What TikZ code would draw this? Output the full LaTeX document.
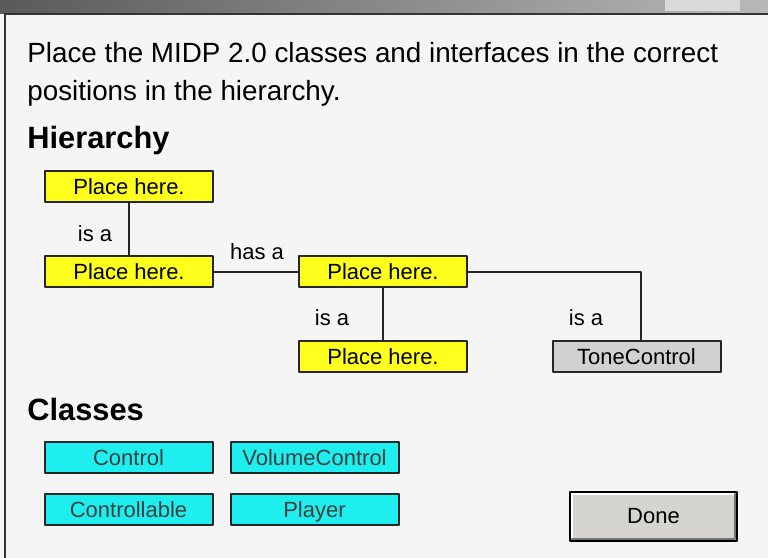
\documentclass[tikz,border=0pt]{standalone}
\usepackage{fontspec}
\setmainfont{Liberation Sans}
\definecolor{panel}{HTML}{F5F5F5}
\definecolor{slotyellow}{HTML}{FFFF1E}
\definecolor{slotcyan}{HTML}{1EEEEE}
\definecolor{btngray}{HTML}{D6D4CE}
\definecolor{barL}{HTML}{5A5A5A}
\definecolor{barR}{HTML}{B8B8B8}
\begin{document}
\begin{tikzpicture}[x=0.5pt, y=-0.5pt, line join=round, line cap=round, font=\fontsize{11}{13}\selectfont]
				\tikzset{slot/.style={draw=black!85, line width=1pt, fill=slotyellow, minimum width=84pt, minimum height=15.5pt, inner sep=0pt, text height=8.6pt, text depth=1.1pt},
					given/.style={slot, fill=black!18},
					cls/.style={slot, fill=slotcyan, text=black!75},
					rel/.style={font=\fontsize{11}{13}\selectfont, inner sep=0pt},
					head/.style={font=\fontsize{15.4}{18}\bfseries, anchor=base west, inner sep=0pt},
					link/.style={draw=black!85, line width=1pt}}
				% window and frame
				\useasboundingbox (0,0) rectangle (768,558);
				\fill[panel] (0,0) rectangle (768,558);
				\shade[left color=barL, right color=barR] (0,0) rectangle (768,13);
				\fill[white!85!black] (665,0) rectangle (740,11);
				\draw[black!80, line width=1pt] (5,14)--(768,14) (5,14)--(5,558);
				% question
				\node[anchor=base west, inner sep=0pt, font=\fontsize{13.9}{16}\selectfont] (q1) at (27,62) {Place the MIDP 2.0 classes and interfaces in the correct};
				\node[anchor=base west, inner sep=0pt, font=\fontsize{13.9}{16}\selectfont] (q2) at (27,100) {positions in the hierarchy.};
				\node[head] (hier) at (27,148) {Hierarchy};
				\node[head] (cls) at (27,420) {Classes};
				% hierarchy slots
				\node[slot] (p1) at (129,186.5) {Place here.};
				\node[slot] (p2) at (129,271.5) {Place here.};
				\node[slot] (p3) at (383,271.5) {Place here.};
				\node[slot] (p4) at (383,356.5) {Place here.};
				\node[given] (tone) at (636.5,356.5) {ToneControl};
				\draw[link] (p1)--(p2) (p2)--(p3) (p3)--(p4);
				\draw[link] (p3.east) -| ([xshift=2pt]tone.north);
				\node[rel] (isa1) at (95,234) {is a};
				\node[rel] (hasa) at (257,252) {has a};
				\node[rel] (isa2) at (332,318) {is a};
				\node[rel] (isa3) at (586,318) {is a};
				% classes to place
				\node[cls] (c1) at (128.5,457.5) {Control};
				\node[cls] (c2) at (314.5,457.5) {VolumeControl};
				\node[cls] (c3) at (128.5,509.5) {Controllable};
				\node[cls] (c4) at (314.5,509.5) {Player};
				% button
				\node[fill=btngray, draw=black, line width=1.2pt, minimum width=83.5pt, minimum height=24.5pt, inner sep=0pt] (done) at (653.5,516.5) {Done};
				\draw[white, line width=1pt] ([shift={(1.5pt,1.5pt)}]done.south west) |- ([shift={(-1.5pt,-1.5pt)}]done.north east);
				\draw[black!55, line width=1pt] ([shift={(1.5pt,1.5pt)}]done.south west) -| ([shift={(-1.5pt,-1.5pt)}]done.north east);
			\end{tikzpicture}
\end{document}
